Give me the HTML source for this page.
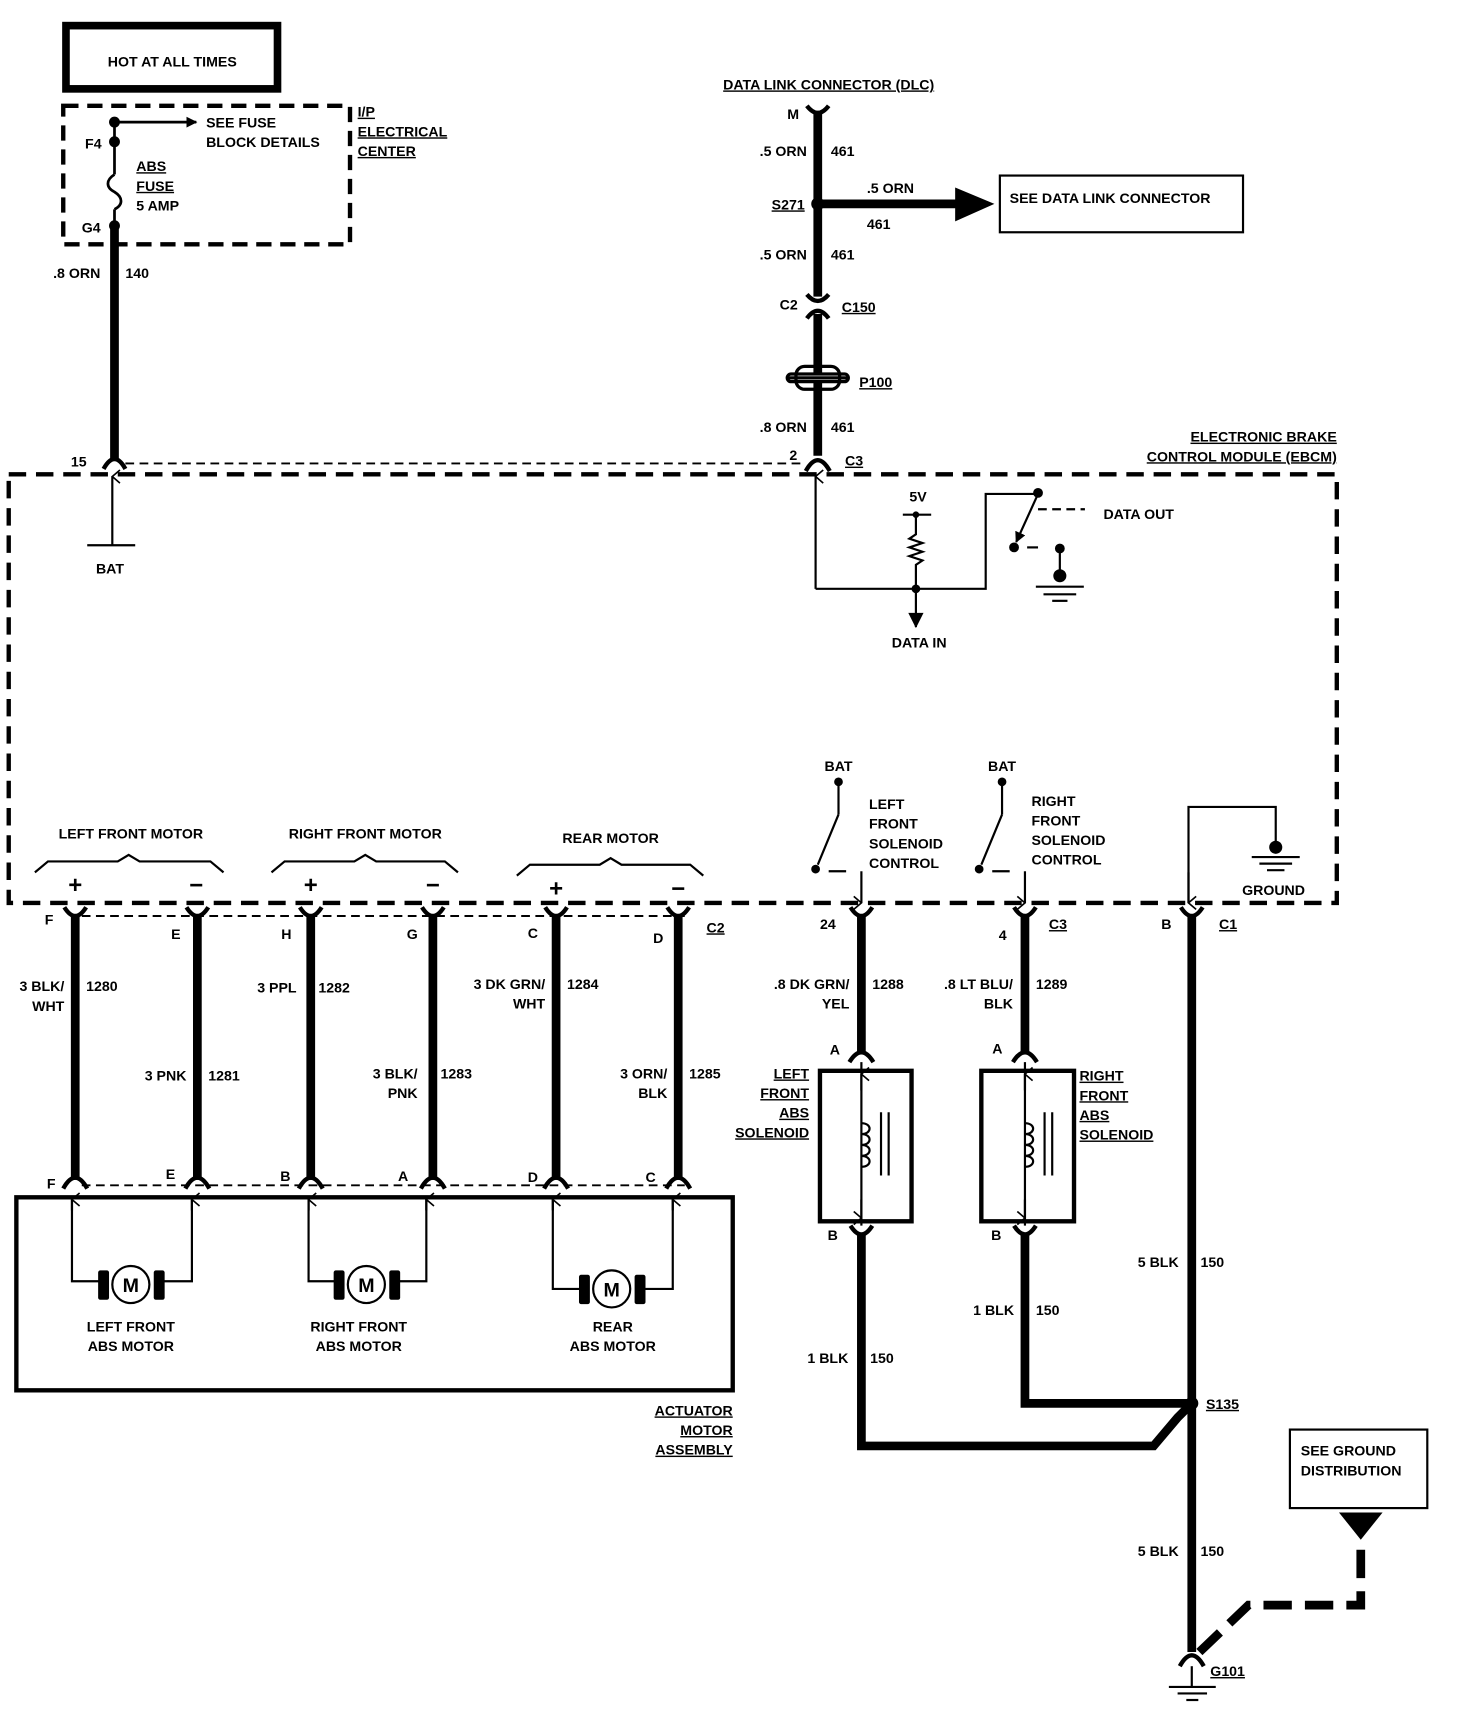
<!DOCTYPE html>
<html><head><meta charset="utf-8"><style>
html,body{margin:0;padding:0;background:#fff}
svg{display:block}
text{font-family:"Liberation Sans",sans-serif;font-weight:bold;font-size:13px;fill:#000}
</style></head><body>
<svg width="1472" height="1712" viewBox="0 0 1350 1570" preserveAspectRatio="none" xmlns="http://www.w3.org/2000/svg">
<defs>
<marker id="ah" markerWidth="10" markerHeight="10" refX="9" refY="5" orient="auto" markerUnits="userSpaceOnUse"><path d="M0,0 L10,5 L0,10 z"/></marker>
<marker id="ao" markerWidth="14" markerHeight="14" refX="7" refY="1" orient="auto" markerUnits="userSpaceOnUse"><path d="M1,8 L7,1 L13,8" fill="none" stroke="#000" stroke-width="1.5"/></marker>
</defs>
<g fill="none" stroke="#000">
<rect x="64" y="27" width="187" height="51" stroke-width="14"/>
<rect x="58" y="97" width="263" height="127" stroke-width="4" stroke-dasharray="14,8"/>
<line x1="105" y1="112" x2="105" y2="160" stroke-width="2.5"/>
<path d="M105,160 c-8,5 -8,12 0,16 c8,5 8,12 0,16" stroke-width="2.5"/>
<line x1="105" y1="192" x2="105" y2="207" stroke-width="2.5"/>
<line x1="105" y1="112" x2="180" y2="112" stroke-width="2.5" marker-end="url(#ah)"/>
<line x1="105" y1="207" x2="105" y2="420" stroke-width="8"/>
<path d="M95,430 Q105,412 115,430" stroke-width="4"/>
<line x1="115" y1="425" x2="738" y2="425" stroke-width="1.8" stroke-dasharray="8,5"/>
<rect x="8" y="435" width="1218" height="393" stroke-width="4" stroke-dasharray="16,9"/>
<line x1="103" y1="500" x2="103" y2="437" stroke-width="2" marker-end="url(#ao)"/>
<line x1="80" y1="500" x2="124" y2="500" stroke-width="2"/>
<path d="M740,97 Q750,110 760,97" stroke-width="4"/>
<line x1="750" y1="104" x2="750" y2="272" stroke-width="8"/>
<path d="M740,270 Q750,282 760,270" stroke-width="4"/>
<path d="M740,292 Q750,278 760,292" stroke-width="4"/>
<line x1="750" y1="288" x2="750" y2="418" stroke-width="8"/>
<path d="M739,432 Q750,412 761,432" stroke-width="4"/>
<line x1="750" y1="187" x2="880" y2="187" stroke-width="8"/>
<rect x="917" y="161" width="223" height="52" stroke-width="2"/>
<rect x="722" y="343" width="56" height="7" rx="3.5" fill="#fff" stroke-width="3"/>
<rect x="730" y="336" width="40" height="21" rx="8" stroke-width="3"/>
<line x1="722" y1="346.5" x2="778" y2="346.5" stroke-width="3"/>
<line x1="748" y1="540" x2="748" y2="437" stroke-width="2" marker-end="url(#ao)"/>
<polyline points="748,540 904,540 904,453 952,453" stroke-width="2"/>
<line x1="828" y1="472" x2="854" y2="472" stroke-width="2"/>
<path d="M840,472 V490 l-6,4 12,4 -12,4 12,4 -12,4 12,4 -6,4 V575" stroke-width="2"/>
<line x1="952" y1="453" x2="932" y2="497" stroke-width="2" marker-end="url(#ah)"/>
<line x1="952" y1="467" x2="995" y2="467" stroke-width="2" stroke-dasharray="8,5"/>
<line x1="942" y1="502" x2="952" y2="502" stroke-width="2"/>
<line x1="972" y1="503" x2="972" y2="528" stroke-width="2"/>
<line x1="950" y1="538" x2="994" y2="538" stroke-width="2"/>
<line x1="957" y1="545" x2="987" y2="545" stroke-width="2"/>
<line x1="965" y1="551" x2="979" y2="551" stroke-width="2"/>
<path d="M32,800 L44,790 H108 L118,784 L128,790 H193 L205,800" stroke-width="2"/>
<path d="M249,800 L261,790 H325 L335,784 L345,790 H408 L420,800" stroke-width="2"/>
<path d="M474,803 L486,793 H550 L560,787 L570,793 H633 L645,803" stroke-width="2"/>
<line x1="769" y1="717" x2="769" y2="747" stroke-width="2"/>
<line x1="769" y1="747" x2="750" y2="793" stroke-width="2"/>
<line x1="760" y1="799" x2="776" y2="799" stroke-width="2"/>
<line x1="790" y1="799" x2="790" y2="828" stroke-width="2" marker-end="url(#ao)"/>
<line x1="919" y1="717" x2="919" y2="747" stroke-width="2"/>
<line x1="919" y1="747" x2="900" y2="793" stroke-width="2"/>
<line x1="910" y1="799" x2="926" y2="799" stroke-width="2"/>
<line x1="940" y1="799" x2="940" y2="828" stroke-width="2" marker-end="url(#ao)"/>
<polyline points="1090,828 1090,740 1170,740 1170,775" stroke-width="2"/>
<line x1="1090" y1="828" x2="1090" y2="800" stroke-width="2" marker-start="url(#ao)"/>
<line x1="1148" y1="786" x2="1192" y2="786" stroke-width="2"/>
<line x1="1155" y1="792" x2="1185" y2="792" stroke-width="2"/>
<line x1="1162" y1="798" x2="1178" y2="798" stroke-width="2"/>
<g stroke-width="8">
<line x1="69" y1="840" x2="69" y2="1082"/>
<line x1="181" y1="840" x2="181" y2="1082"/>
<line x1="285" y1="840" x2="285" y2="1082"/>
<line x1="397" y1="840" x2="397" y2="1082"/>
<line x1="510" y1="840" x2="510" y2="1082"/>
<line x1="622" y1="840" x2="622" y2="1082"/>
<line x1="790" y1="840" x2="790" y2="965"/>
<line x1="940" y1="840" x2="940" y2="965"/>
<line x1="1093" y1="840" x2="1093" y2="1515"/>
<polyline points="790,1132 790,1326 1058,1326 1080,1300 1093,1287" stroke-linejoin="miter"/>
<polyline points="940,1132 940,1287 1093,1287"/>
</g>
<g stroke-width="4">
<path d="M59,832 Q69,848 79,832"/><path d="M171,832 Q181,848 191,832"/>
<path d="M275,832 Q285,848 295,832"/><path d="M387,832 Q397,848 407,832"/>
<path d="M500,832 Q510,848 520,832"/><path d="M612,832 Q622,848 632,832"/>
<path d="M780,832 Q790,848 800,832"/><path d="M930,832 Q940,848 950,832"/>
<path d="M1083,832 Q1093,848 1103,832"/>
<path d="M58,1090 Q69,1070 80,1090"/><path d="M170,1090 Q181,1070 192,1090"/>
<path d="M274,1090 Q285,1070 296,1090"/><path d="M386,1090 Q397,1070 408,1090"/>
<path d="M499,1090 Q510,1070 521,1090"/><path d="M611,1090 Q622,1070 633,1090"/>
<path d="M779,974 Q790,956 801,974"/><path d="M929,974 Q940,956 951,974"/>
<path d="M780,1124 Q790,1140 800,1124"/><path d="M930,1124 Q940,1140 950,1124"/>
<path d="M1082,1528 Q1093,1508 1104,1528"/>
</g>
<line x1="75" y1="840" x2="628" y2="840" stroke-width="1.8" stroke-dasharray="8,5"/>
<line x1="75" y1="1087" x2="628" y2="1087" stroke-width="1.8" stroke-dasharray="8,5"/>
<rect x="15" y="1098" width="657" height="177" stroke-width="4"/>
<g stroke-width="2">
<polyline points="66,1100 66,1175 92,1175"/><polyline points="176,1100 176,1175 150,1175"/>
<polyline points="283,1100 283,1175 309,1175"/><polyline points="391,1100 391,1175 365,1175"/>
<polyline points="507,1100 507,1182 533,1182"/><polyline points="617,1100 617,1182 591,1182"/>
</g>
<g stroke-width="2" marker-end="url(#ao)">
<line x1="66" y1="1110" x2="66" y2="1100"/><line x1="176" y1="1110" x2="176" y2="1100"/>
<line x1="283" y1="1110" x2="283" y2="1100"/><line x1="391" y1="1110" x2="391" y2="1100"/>
<line x1="507" y1="1110" x2="507" y2="1100"/><line x1="617" y1="1110" x2="617" y2="1100"/>
</g>
<circle cx="120" cy="1178" r="17" stroke-width="2"/>
<circle cx="336" cy="1178" r="17" stroke-width="2"/>
<circle cx="561" cy="1182" r="17" stroke-width="2"/>
<rect x="752" y="982" width="84" height="138" stroke-width="4"/>
<rect x="900" y="982" width="85" height="138" stroke-width="4"/>
<g stroke-width="2">
<line x1="790" y1="974" x2="790" y2="1124"/><line x1="940" y1="974" x2="940" y2="1124"/>
<path d="M790,1030 c10,0 10,10 0,10 c10,0 10,10 0,10 c10,0 10,10 0,10 c10,0 10,10 0,10"/>
<path d="M940,1030 c10,0 10,10 0,10 c10,0 10,10 0,10 c10,0 10,10 0,10 c10,0 10,10 0,10"/>
<line x1="808" y1="1020" x2="808" y2="1078"/><line x1="815" y1="1020" x2="815" y2="1078"/>
<line x1="958" y1="1020" x2="958" y2="1078"/><line x1="965" y1="1020" x2="965" y2="1078"/>
</g>
<g stroke-width="2" marker-end="url(#ao)">
<line x1="790" y1="1000" x2="790" y2="985"/><line x1="940" y1="1000" x2="940" y2="985"/>
<line x1="790" y1="1100" x2="790" y2="1117"/><line x1="940" y1="1100" x2="940" y2="1117"/>
</g>
<rect x="1183" y="1311" width="126" height="72" stroke-width="2"/>
<polyline points="1100,1515 1145,1472 1248,1472 1248,1410" stroke-width="8" stroke-dasharray="26,12"/>
<line x1="1072" y1="1547" x2="1115" y2="1547" stroke-width="2"/>
<line x1="1080" y1="1553" x2="1107" y2="1553" stroke-width="2"/>
<line x1="1088" y1="1559" x2="1099" y2="1559" stroke-width="2"/>
<line x1="1093" y1="1528" x2="1093" y2="1547" stroke-width="2"/>
</g>
<g fill="#000">
<rect x="64" y="27" width="187" height="51" fill="#fff"/>
<circle cx="105" cy="112" r="5"/><circle cx="105" cy="130" r="5"/><circle cx="105" cy="207" r="5"/>
<circle cx="750" cy="187" r="6"/>
<path d="M876,172 L912,187 L876,203 z"/>
<circle cx="840" cy="472" r="3"/><circle cx="840" cy="540" r="4"/>
<path d="M833,562 L847,562 L840,576 z"/>
<circle cx="952" cy="452" r="4.5"/><circle cx="930" cy="502" r="4.5"/>
<circle cx="972" cy="503" r="4.5"/><circle cx="972" cy="528" r="6"/>
<circle cx="769" cy="717" r="4"/><circle cx="748" cy="797" r="4"/>
<circle cx="919" cy="717" r="4"/><circle cx="898" cy="797" r="4"/>
<circle cx="1170" cy="777" r="6"/>
<circle cx="1093" cy="1287" r="6"/>
<path d="M1228,1387 L1268,1387 L1248,1412 z"/>
<rect x="90" y="1165" width="10" height="27" rx="2"/><rect x="141" y="1165" width="10" height="27" rx="2"/>
<rect x="306" y="1165" width="10" height="27" rx="2"/><rect x="357" y="1165" width="10" height="27" rx="2"/>
<rect x="531" y="1169" width="10" height="27" rx="2"/><rect x="582" y="1169" width="10" height="27" rx="2"/>
</g>
<g text-anchor="middle">
<text x="120" y="1185" style="font-size:18px">M</text><text x="336" y="1185" style="font-size:18px">M</text><text x="561" y="1189" style="font-size:18px">M</text>
</g>
<text x="158" y="61" text-anchor="middle">HOT AT ALL TIMES</text>
<text x="189" y="117">SEE FUSE</text><text x="189" y="135">BLOCK DETAILS</text>
<text x="78" y="136">F4</text><text x="75" y="213">G4</text>
<text x="125" y="157" text-decoration="underline">ABS</text><text x="125" y="175" text-decoration="underline">FUSE</text><text x="125" y="193">5 AMP</text>
<text x="328" y="107" text-decoration="underline">I/P</text><text x="328" y="125" text-decoration="underline">ELECTRICAL</text><text x="328" y="143" text-decoration="underline">CENTER</text>
<text x="92" y="255" text-anchor="end">.8 ORN</text><text x="115" y="255">140</text>
<text x="65" y="428">15</text>
<text x="88" y="526">BAT</text>
<text x="760" y="82" text-anchor="middle" text-decoration="underline">DATA LINK CONNECTOR (DLC)</text>
<text x="722" y="109">M</text>
<text x="740" y="143" text-anchor="end">.5 ORN</text><text x="762" y="143">461</text>
<text x="738" y="192" text-anchor="end" text-decoration="underline">S271</text>
<text x="795" y="177">.5 ORN</text><text x="795" y="210">461</text>
<text x="926" y="186">SEE DATA LINK CONNECTOR</text>
<text x="740" y="238" text-anchor="end">.5 ORN</text><text x="762" y="238">461</text>
<text x="715" y="284">C2</text><text x="772" y="286" text-decoration="underline">C150</text>
<text x="788" y="355" text-decoration="underline">P100</text>
<text x="740" y="396" text-anchor="end">.8 ORN</text><text x="762" y="396">461</text>
<text x="724" y="422">2</text><text x="775" y="427" text-decoration="underline">C3</text>
<text x="1226" y="405" text-anchor="end" text-decoration="underline">ELECTRONIC BRAKE</text>
<text x="1226" y="423" text-anchor="end" text-decoration="underline">CONTROL MODULE (EBCM)</text>
<text x="842" y="460" text-anchor="middle">5V</text>
<text x="1012" y="476">DATA OUT</text>
<text x="843" y="594" text-anchor="middle">DATA IN</text>
<text x="769" y="707" text-anchor="middle">BAT</text><text x="919" y="707" text-anchor="middle">BAT</text>
<text x="797" y="742">LEFT</text><text x="797" y="760">FRONT</text><text x="797" y="778">SOLENOID</text><text x="797" y="796">CONTROL</text>
<text x="946" y="739">RIGHT</text><text x="946" y="757">FRONT</text><text x="946" y="775">SOLENOID</text><text x="946" y="793">CONTROL</text>
<text x="1168" y="821" text-anchor="middle">GROUND</text>
<text x="120" y="769" text-anchor="middle">LEFT FRONT MOTOR</text>
<text x="335" y="769" text-anchor="middle">RIGHT FRONT MOTOR</text>
<text x="560" y="773" text-anchor="middle">REAR MOTOR</text>
<g text-anchor="middle">
<text x="69" y="819" style="font-size:22px">+</text><text x="180" y="819" style="font-size:22px">−</text><text x="285" y="819" style="font-size:22px">+</text><text x="397" y="819" style="font-size:22px">−</text><text x="510" y="822" style="font-size:22px">+</text><text x="622" y="822" style="font-size:22px">−</text>
</g>
<text x="41" y="848">F</text><text x="157" y="861">E</text><text x="258" y="861">H</text><text x="373" y="861">G</text><text x="484" y="860">C</text><text x="599" y="865">D</text>
<text x="648" y="855" text-decoration="underline">C2</text>
<text x="752" y="852">24</text><text x="916" y="862">4</text><text x="962" y="852" text-decoration="underline">C3</text>
<text x="1065" y="852">B</text><text x="1118" y="852" text-decoration="underline">C1</text>
<text x="59" y="909" text-anchor="end">3 BLK/</text><text x="59" y="927" text-anchor="end">WHT</text><text x="79" y="909">1280</text>
<text x="171" y="991" text-anchor="end">3 PNK</text><text x="191" y="991">1281</text>
<text x="272" y="910" text-anchor="end">3 PPL</text><text x="292" y="910">1282</text>
<text x="383" y="989" text-anchor="end">3 BLK/</text><text x="383" y="1007" text-anchor="end">PNK</text><text x="404" y="989">1283</text>
<text x="500" y="907" text-anchor="end">3 DK GRN/</text><text x="500" y="925" text-anchor="end">WHT</text><text x="520" y="907">1284</text>
<text x="612" y="989" text-anchor="end">3 ORN/</text><text x="612" y="1007" text-anchor="end">BLK</text><text x="632" y="989">1285</text>
<text x="779" y="907" text-anchor="end">.8 DK GRN/</text><text x="779" y="925" text-anchor="end">YEL</text><text x="800" y="907">1288</text>
<text x="929" y="907" text-anchor="end">.8 LT BLU/</text><text x="929" y="925" text-anchor="end">BLK</text><text x="950" y="907">1289</text>
<text x="761" y="967">A</text><text x="910" y="966">A</text>
<text x="759" y="1137">B</text><text x="909" y="1137">B</text>
<text x="742" y="989" text-anchor="end" text-decoration="underline">LEFT</text><text x="742" y="1007" text-anchor="end" text-decoration="underline">FRONT</text><text x="742" y="1025" text-anchor="end" text-decoration="underline">ABS</text><text x="742" y="1043" text-anchor="end" text-decoration="underline">SOLENOID</text>
<text x="990" y="991" text-decoration="underline">RIGHT</text><text x="990" y="1009" text-decoration="underline">FRONT</text><text x="990" y="1027" text-decoration="underline">ABS</text><text x="990" y="1045" text-decoration="underline">SOLENOID</text>
<text x="43" y="1090">F</text><text x="152" y="1081">E</text><text x="257" y="1083">B</text><text x="365" y="1083">A</text><text x="484" y="1084">D</text><text x="592" y="1084">C</text>
<text x="120" y="1221" text-anchor="middle">LEFT FRONT</text><text x="120" y="1239" text-anchor="middle">ABS MOTOR</text>
<text x="329" y="1221" text-anchor="middle">RIGHT FRONT</text><text x="329" y="1239" text-anchor="middle">ABS MOTOR</text>
<text x="562" y="1221" text-anchor="middle">REAR</text><text x="562" y="1239" text-anchor="middle">ABS MOTOR</text>
<text x="672" y="1298" text-anchor="end" text-decoration="underline">ACTUATOR</text><text x="672" y="1316" text-anchor="end" text-decoration="underline">MOTOR</text><text x="672" y="1334" text-anchor="end" text-decoration="underline">ASSEMBLY</text>
<text x="1081" y="1162" text-anchor="end">5 BLK</text><text x="1101" y="1162">150</text>
<text x="930" y="1206" text-anchor="end">1 BLK</text><text x="950" y="1206">150</text>
<text x="778" y="1250" text-anchor="end">1 BLK</text><text x="798" y="1250">150</text>
<text x="1106" y="1292" text-decoration="underline">S135</text>
<text x="1193" y="1335">SEE GROUND</text><text x="1193" y="1353">DISTRIBUTION</text>
<text x="1081" y="1427" text-anchor="end">5 BLK</text><text x="1101" y="1427">150</text>
<text x="1110" y="1537" text-decoration="underline">G101</text>
</svg>
</body></html>
